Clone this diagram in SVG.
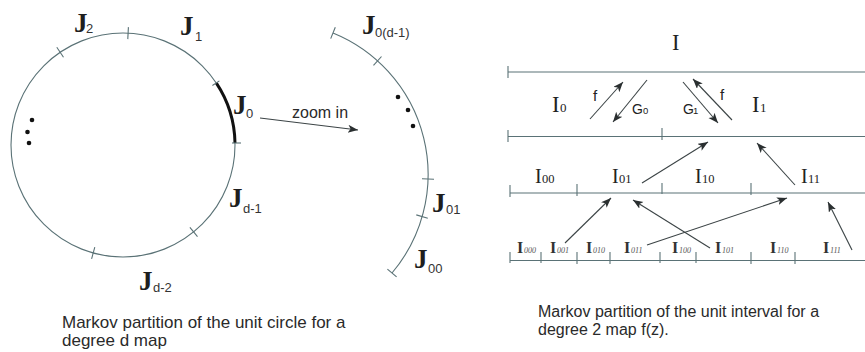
<svg xmlns="http://www.w3.org/2000/svg" width="865" height="352" viewBox="0 0 865 352">
<style>
.ln{stroke:#5a7276;stroke-width:1.1;fill:none}
.tk{stroke:#5a7276;stroke-width:1.1}
.ar{stroke:#3c4446;stroke-width:1.1;fill:none;marker-end:url(#ah)}
.J{font-family:"Liberation Serif",serif;font-weight:bold;font-size:27px;fill:#1e1e1e}
.js{font-family:"Liberation Sans",Arial,sans-serif;font-size:13px;fill:#333}
.cap{font-family:"Liberation Sans",Arial,sans-serif;font-size:17px;fill:#2a2a2a}
.I{font-family:"Liberation Serif",serif;font-size:22.5px;fill:#222}
.Is{font-family:"Liberation Serif",serif;font-size:13px;fill:#222}
.I2{font-family:"Liberation Serif",serif;font-size:20px;fill:#222}
.I2s{font-family:"Liberation Serif",serif;font-size:12.5px;fill:#222}
.I3{font-family:"Liberation Serif",serif;font-weight:bold;font-size:16px;fill:#333}
.I3s{font-family:"Liberation Serif",serif;font-style:italic;font-size:8px;fill:#555}
.lab{font-family:"Liberation Sans",Arial,sans-serif;font-size:15px;fill:#222}
.labs{font-family:"Liberation Sans",Arial,sans-serif;font-size:9.5px;fill:#222}
</style>
<defs>
<marker id="ah" markerUnits="userSpaceOnUse" markerWidth="12" markerHeight="10" refX="10" refY="4" orient="auto">
<path d="M0,0 L10,4 L0,8 L2.5,4 Z" fill="#2a2f30"/>
</marker>
</defs>

<g id="circle">
<circle class="ln" cx="123" cy="145" r="112"/>
<path d="M216.4,83.2 A112,112 0 0 1 235,143" stroke="#111" stroke-width="3" fill="none"/>
<line class="tk" x1="127.8" y1="39.1" x2="128.4" y2="27.1"/>
<line class="tk" x1="63.5" y1="57.2" x2="56.8" y2="47.3"/>
<line class="tk" x1="212.4" y1="85.5" x2="219.4" y2="80.9"/>
<line class="tk" x1="232" y1="143" x2="241" y2="143"/>
<line class="tk" x1="189.9" y1="227.3" x2="197.5" y2="236.6"/>
<line class="tk" x1="94.8" y1="247.2" x2="91.6" y2="258.8"/>
<circle cx="32" cy="120" r="2.3" fill="#111"/>
<circle cx="27.5" cy="132" r="2.3" fill="#111"/>
<circle cx="29" cy="143" r="2.3" fill="#111"/>
</g>

<g id="circle-labels">
<text class="J" x="74" y="32">J</text><text class="js" x="86" y="33">2</text>
<text class="J" x="180" y="35">J</text><text class="js" x="195" y="41">1</text>
<text class="J" x="233" y="114">J</text><text class="js" x="246" y="118">0</text>
<text class="J" x="229" y="207">J</text><text class="js" x="243" y="213">d-1</text>
<text class="J" x="139" y="290">J</text><text class="js" x="153" y="292">d-2</text>
</g>

<g id="zoom-arc">
<path class="ln" d="M333,33 A152.7,152.7 0 0 1 392,273"/>
<line class="tk" x1="330.7" y1="38.6" x2="335.3" y2="27.3"/>
<line class="tk" x1="373.5" y1="65.4" x2="381.5" y2="56.5"/>
<line class="tk" x1="422" y1="178.8" x2="434" y2="179.2"/>
<line class="tk" x1="416.3" y1="214.9" x2="427.8" y2="218.2"/>
<line class="tk" x1="387.4" y1="269.1" x2="396.6" y2="276.9"/>
<circle cx="398" cy="97" r="2.3" fill="#111"/>
<circle cx="408" cy="110" r="2.3" fill="#111"/>
<circle cx="413" cy="126" r="2.3" fill="#111"/>
<text class="J" x="362" y="34">J</text><text class="js" x="375" y="37">0(d-1)</text>
<text class="J" x="432" y="212">J</text><text class="js" x="446" y="214">01</text>
<text class="J" x="414" y="268">J</text><text class="js" x="428" y="273">00</text>
</g>

<g id="zoom-in">
<line class="ar" x1="260" y1="118" x2="358" y2="130"/>
<text class="cap" x="292" y="118" style="font-size:16px">zoom in</text>
</g>

<g id="interval-lines">
<line class="ln" x1="508" y1="72" x2="865" y2="72"/>
<line class="tk" x1="508" y1="66" x2="508" y2="78"/>
<line class="ln" x1="508" y1="136.5" x2="865" y2="136.5"/>
<line class="tk" x1="508" y1="130" x2="508" y2="142"/>
<line class="tk" x1="662" y1="128" x2="662" y2="140"/>
<line class="ln" x1="510" y1="193" x2="865" y2="193"/>
<line class="tk" x1="510" y1="185" x2="510" y2="197"/>
<line class="tk" x1="577" y1="184" x2="577" y2="196"/>
<line class="tk" x1="662" y1="183" x2="662" y2="194"/>
<line class="tk" x1="751" y1="183" x2="751" y2="195"/>
<line class="ln" x1="510" y1="260.5" x2="865" y2="260.5"/>
<line class="tk" x1="510" y1="252" x2="510" y2="263"/>
<line class="tk" x1="541" y1="252" x2="541" y2="263"/>
<line class="tk" x1="577" y1="252" x2="577" y2="264"/>
<line class="tk" x1="610" y1="252" x2="610" y2="264"/>
<line class="tk" x1="660" y1="252" x2="660" y2="263"/>
<line class="tk" x1="696" y1="252" x2="696" y2="263"/>
<line class="tk" x1="751" y1="252" x2="751" y2="264"/>
<line class="tk" x1="795" y1="252" x2="795" y2="264"/>
</g>

<g id="interval-labels">
<text class="I" x="672" y="50">I</text>
<text class="I" x="552" y="112">I</text><text class="Is" x="560" y="112">0</text>
<text class="I" x="752" y="112">I</text><text class="Is" x="760" y="112">1</text>
<text class="I2" x="535" y="183">I</text><text class="I2s" x="542" y="183">00</text>
<text class="I2" x="612" y="183">I</text><text class="I2s" x="619" y="183">01</text>
<text class="I2" x="695" y="183">I</text><text class="I2s" x="702" y="183">10</text>
<text class="I2" x="801" y="183">I</text><text class="I2s" x="808" y="183">11</text>
<text class="I3" x="517" y="253">I</text><text class="I3s" x="524" y="253">000</text>
<text class="I3" x="550" y="253">I</text><text class="I3s" x="557" y="253">001</text>
<text class="I3" x="586" y="253">I</text><text class="I3s" x="593" y="253">010</text>
<text class="I3" x="624" y="253">I</text><text class="I3s" x="631" y="253">011</text>
<text class="I3" x="672" y="253">I</text><text class="I3s" x="679" y="253">100</text>
<text class="I3" x="715" y="253">I</text><text class="I3s" x="722" y="253">101</text>
<text class="I3" x="770" y="253">I</text><text class="I3s" x="777" y="253">110</text>
<text class="I3" x="823" y="253">I</text><text class="I3s" x="830" y="253">111</text>
<text class="lab" x="593" y="101">f</text>
<text class="lab" x="720" y="100">f</text>
<text class="lab" x="632" y="114" style="font-size:14px">G</text><text class="labs" x="643" y="114">0</text>
<text class="lab" x="683" y="114" style="font-size:14px">G</text><text class="labs" x="693" y="114">1</text>
</g>

<g id="connectors">
<line class="ar" x1="590" y1="119" x2="623" y2="82"/>
<line class="ar" x1="647" y1="80" x2="613" y2="122"/>
<line class="ar" x1="683" y1="82" x2="718" y2="123"/>
<line class="ar" x1="732" y1="120" x2="693" y2="79"/>
<line class="ar" x1="642" y1="183" x2="708" y2="142"/>
<line class="ar" x1="795" y1="185" x2="757" y2="143"/>
<line class="ar" x1="565" y1="243" x2="611" y2="198"/>
<line class="ar" x1="710" y1="248" x2="633" y2="200"/>
<line class="ar" x1="647" y1="245" x2="787" y2="198"/>
<line class="ar" x1="852" y1="250" x2="828" y2="202"/>
</g>

<g id="captions">
<text class="cap" x="62" y="328">Markov partition of the unit circle for a</text>
<text class="cap" x="62" y="346">degree d map</text>
<text class="cap" x="538" y="317" style="font-size:16px">Markov partition of the unit interval for a</text>
<text class="cap" x="538" y="335" style="font-size:16px">degree 2 map f(z).</text>
</g>
</svg>
